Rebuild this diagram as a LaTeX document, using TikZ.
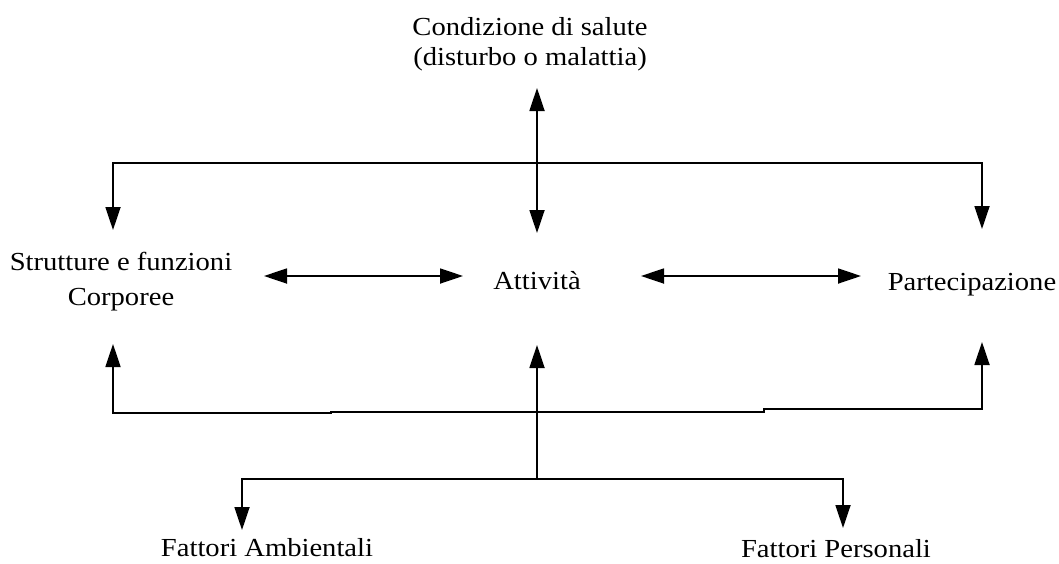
\documentclass[tikz,border=0pt]{standalone}
\usepackage{fontspec}
\setmainfont[FakeStretch=1.1]{Liberation Serif}
\usetikzlibrary{arrows.meta}
\begin{document}
\begin{tikzpicture}[x=1pt,y=-1pt,
  lbl/.style={inner sep=0pt,anchor=base,align=center,font=\fontsize{26}{30}\selectfont},
  conn/.style={line width=1.8pt,black},
  tip/.style={-{Triangle[length=23pt,width=15pt]}},
  tips/.style={{Triangle[length=23pt,width=15pt]}-{Triangle[length=23pt,width=15pt]}}]
\useasboundingbox[fill=white] (0,0) rectangle (1059,563);
% text nodes (base = baseline of last line)
\node[lbl] (cond) at (530,65) {Condizione di salute\\(disturbo o malattia)};
\node[lbl,font=\fontsize{26}{35}\selectfont] (strut) at (121,305) {Strutture e funzioni\\Corporee};
\node[lbl] (att) at (537,289) {Attività};
\node[lbl] (part) at (972,290) {Partecipazione};
\node[lbl] (amb) at (267,556) {Fattori Ambientali};
\node[lbl] (pers) at (836,557) {Fattori Personali};
% coordinates
\coordinate (ctop) at (537,88);
\coordinate (cbot) at (537,233);
\coordinate (tl) at (113,163);
\coordinate (tr) at (982,163);
\coordinate (tla) at (113,230);
\coordinate (tra) at (982,229);
\coordinate (h1a) at (264,276);
\coordinate (h1b) at (463,276);
\coordinate (h2a) at (641,276);
\coordinate (h2b) at (861,276);
\coordinate (bl) at (113,413);
\coordinate (bs1) at (331,413);
\coordinate (bs2) at (331,412);
\coordinate (bs3) at (764,412);
\coordinate (bs4) at (764,409);
\coordinate (br) at (982,409);
\coordinate (bla) at (113,344);
\coordinate (bra) at (982,342);
\coordinate (mb) at (537,479);
\coordinate (ma) at (537,345);
\coordinate (fl) at (242,479);
\coordinate (fr) at (843,479);
\coordinate (fla) at (242,530);
\coordinate (fra) at (843,528);
% connectors
\draw[conn,tips] (ctop) -- (cbot);
\draw[conn,tips] (tla) -- (tl) -- (tr) -- (tra);
\draw[conn,tips] (h1a) -- (h1b);
\draw[conn,tips] (h2a) -- (h2b);
\draw[conn,tips] (bla) -- (bl) -- (bs1) -- (bs2) -- (bs3) -- (bs4) -- (br) -- (bra);
\draw[conn,tip] (mb) -- (ma);
\draw[conn,tips] (fla) -- (fl) -- (fr) -- (fra);
\end{tikzpicture}
\end{document}
